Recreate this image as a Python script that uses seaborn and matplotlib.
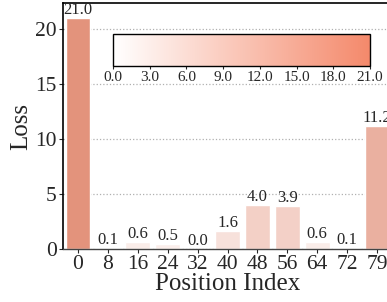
import numpy as np
import pandas as pd
import matplotlib
matplotlib.use("Agg")
import matplotlib.pyplot as plt
import matplotlib.colors as mcolors
import seaborn as sns

positions = ["0", "8", "16", "24", "32", "40", "48", "56", "64", "72", "79"]
losses = [21.0, 0.1, 0.6, 0.5, 0.0, 1.6, 4.0, 3.9, 0.6, 0.1, 11.2]
cbar_ticks = [0.0, 3.0, 6.0, 9.0, 12.0, 15.0, 18.0, 21.0]

sns.set_style("white")
plt.rcParams["font.family"] = ["Liberation Serif", "DejaVu Serif"]
plt.rcParams["mathtext.fontset"] = "stix"

cmap = mcolors.LinearSegmentedColormap.from_list("w2salmon", ["#FFFFFF", "#F4896B"])
norm = mcolors.Normalize(vmin=0.0, vmax=21.0)
bar_norm = mcolors.PowerNorm(gamma=0.5, vmin=0.0, vmax=21.0)
colors = [cmap(bar_norm(v)) for v in losses]

df = pd.DataFrame({"Position": positions, "Loss": losses})

fig = plt.figure(figsize=(3.87, 3.02), dpi=100)
ax = fig.add_axes([63/387, 1-249/302, (392-63)/387, (249-3)/302])

sns.barplot(data=df, x="Position", y="Loss", hue="Position", palette=colors,
            order=positions, hue_order=positions, legend=False, width=0.83, ax=ax)

for c in ax.containers:
    ax.bar_label(c, fmt="%.1f", fontsize=12, padding=0)

ax.set_xlim(-0.5, len(positions) - 0.5)
ax.set_ylim(0, 22.4)
ax.set_yticks([0, 5, 10, 15, 20])
ax.yaxis.grid(True, linestyle=":", color="#b0b0b0", linewidth=0.9)
ax.set_axisbelow(True)
ax.set_xlabel("Position Index", fontsize=18, labelpad=-1)
ax.set_ylabel("Loss", fontsize=18, labelpad=2)
ax.tick_params(axis="both", labelsize=15.5, length=3, width=0.8, direction="out",
               bottom=True, left=True, pad=1.5)
for s in ["left", "top"]:
    ax.spines[s].set_color("black")
    ax.spines[s].set_linewidth(1.2)
ax.spines["bottom"].set_color("#444444")
ax.spines["bottom"].set_linewidth(1.0)
ax.spines["right"].set_visible(False)

cax = fig.add_axes([113/387, 1-66/302, (370-113)/387, (66-34)/302])
sm = matplotlib.cm.ScalarMappable(norm=norm, cmap=cmap)
cb = fig.colorbar(sm, cax=cax, orientation="horizontal", ticks=cbar_ticks)
cb.ax.set_xticklabels([f"{t:.1f}" for t in cbar_ticks])
cb.ax.tick_params(labelsize=11, length=2.5, width=0.8, pad=1)
cb.outline.set_linewidth(1.0)
cb.outline.set_edgecolor("black")

fig.savefig("out.png", dpi=100)
